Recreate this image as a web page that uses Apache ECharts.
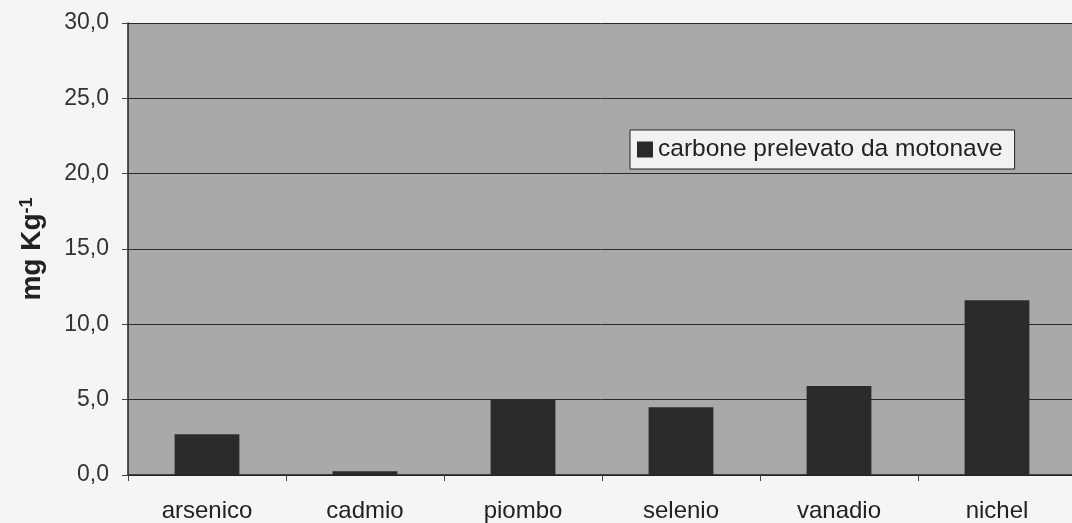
<!DOCTYPE html>
<html>
<head>
<meta charset="utf-8">
<script src="https://cdn.jsdelivr.net/npm/echarts@6/dist/echarts.min.js"></script>
<style>
html,body{margin:0;padding:0;background:#f5f5f5;}
#c{width:1072px;height:523px;}
</style>
</head>
<body>
<div id="c"></div>
<script>
var categories = ["arsenico", "cadmio", "piombo", "selenio", "vanadio", "nichel"];
var seriesName = "carbone prelevato da motonave";
var values = [2.7, 0.25, 5.0, 4.5, 5.9, 11.6];
var yTicks = [0, 5, 10, 15, 20, 25, 30];

var chart = echarts.init(document.getElementById('c'));
chart.setOption({
  animation: false,
  backgroundColor: '#f5f5f5',
  grid: {left: 128, right: -4, top: 23, bottom: 48, backgroundColor: '#a9a9a9', show: true, borderWidth: 0,
    containLabel: false, outerBoundsMode: 'none'},
  legend: {
    left: 630, top: 130,
    data: [seriesName],
    icon: 'rect', itemWidth: 16, itemHeight: 16, itemGap: 6,
    backgroundColor: '#f2f2f2', borderColor: '#222', borderWidth: 1,
    padding: [7, 12, 7, 7],
    textStyle: {fontFamily: 'Liberation Sans', fontSize: 24.5, color: '#222'}
  },
  xAxis: {
    type: 'category', data: categories,
    axisLine: {lineStyle: {color: '#222', width: 1.5}},
    axisTick: {show: true, length: 6, lineStyle: {color: '#444'}},
    axisLabel: {fontFamily: 'Liberation Sans', fontSize: 24, color: '#222', margin: 24}
  },
  yAxis: {
    type: 'value', min: yTicks[0], max: yTicks[yTicks.length - 1], interval: 5,
    name: 'mg Kg{sup|-1}',
    nameLocation: 'middle', nameRotate: 90, nameGap: 82,
    nameTextStyle: {fontFamily: 'Liberation Sans', fontSize: 28, fontWeight: 'bold', color: '#222',
      rich: {sup: {fontSize: 18, fontWeight: 'bold', verticalAlign: 'top', padding: [0,0,10,0], color: '#222'}}},
    axisLine: {show: true, lineStyle: {color: '#222', width: 1.5}},
    axisTick: {show: true, length: 6, lineStyle: {color: '#444'}},
    axisLabel: {fontFamily: 'Liberation Sans', fontSize: 23, color: '#333', margin: 19,
      formatter: function (v) { return v.toFixed(1).replace('.', ','); }},
    splitLine: {show: true, lineStyle: {color: '#2a2a2a', width: 1}}
  },
  series: [{
    name: seriesName, type: 'bar', data: values,
    barWidth: '41%',
    itemStyle: {color: '#2b2b2b'}
  }]
});
</script>
</body>
</html>
